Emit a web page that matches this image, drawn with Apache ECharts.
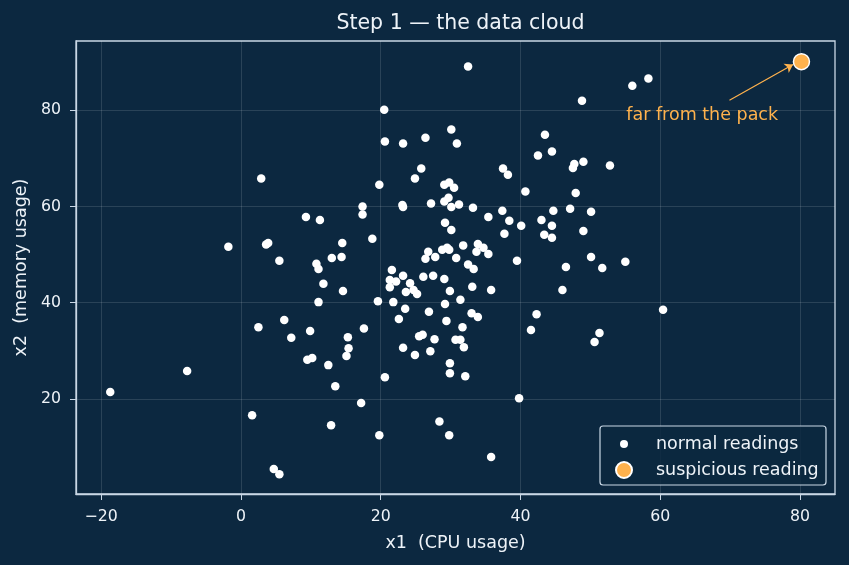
<!DOCTYPE html>
<html>
<head>
<meta charset="utf-8">
<script src="https://cdn.jsdelivr.net/npm/echarts@6/dist/echarts.min.js"></script>
<style>
  html, body { margin: 0; padding: 0; background: #0c2840; }
  #chart { width: 849px; height: 565px; }
</style>
</head>
<body>
<div id="chart"></div>
<script type="text/javascript">
// normal readings
var normalX = [2.9, 32.5, 20.5, 48.8, 30.1, 20.6, 23.2, 26.4, 30.9, 43.5, 44.5, 42.5, 25.8, 24.9, 19.8, 37.5, 38.2, 40.7, 47.5, 47.7,
  49.0, 47.9, 29.1, 29.8, 30.5, 58.3, 56.0, 52.8, 9.3, 11.3, -1.8, 3.6, 3.9, 5.5, 10.8, 11.1, 13.0, 11.8, 11.1, 6.2,
  2.5, 7.2, 9.9, 17.4, 17.4, 23.1, 23.2, 27.2, 29.1, 29.7, 30.1, 31.2, 33.2, 35.4, 37.4, 38.4, 40.1, 37.7, 43.0, 44.7,
  47.1, 44.5, 43.4, 44.5, 49.0, 29.2, 30.1, 18.8, 14.5, 14.4, 14.6, 26.8, 26.4, 27.8, 28.8, 29.5, 29.8, 31.8, 30.8, 33.9,
  33.7, 34.7, 35.4, 39.5, 46.5, 46.0, 21.6, 23.2, 21.3, 22.2, 21.3, 24.2, 24.7, 25.2, 23.6, 26.1, 27.5, 29.1, 32.5, 33.3,
  33.1, 35.8, 29.9, 31.4, 29.2, 19.6, 21.8, 23.5, 22.6, 26.9, 29.4, 33.0, 33.9, 31.7, 42.3, 41.5, 17.6, 15.3, 15.4, 15.1,
  25.5, 26.0, 27.7, 23.2, 30.7, 31.4, 31.9, 12.5, 13.5, 17.2, 12.9, 19.8, 20.6, 24.9, 27.1, 29.9, 29.9, 32.1, 39.8, 28.4,
  29.8, 35.8, 9.5, 10.2, -7.7, -18.7, 1.6, 4.7, 5.5, 50.1, 50.1, 51.7, 55.0, 60.4, 51.3, 50.6];
var normalY = [65.8, 89.1, 80.1, 82.0, 76.0, 73.5, 73.1, 74.3, 73.1, 74.9, 71.4, 70.6, 67.9, 65.8, 64.5, 67.9, 66.6, 63.1, 68.0, 68.8,
  69.3, 62.8, 64.5, 65.0, 63.9, 86.6, 85.1, 68.5, 57.8, 57.2, 51.6, 52.1, 52.4, 48.7, 48.1, 47.0, 49.3, 43.9, 40.1, 36.4,
  34.9, 32.7, 34.1, 60.0, 58.3, 60.3, 59.9, 60.6, 61.0, 61.8, 59.9, 60.4, 59.7, 57.8, 59.1, 57.0, 56.0, 54.3, 57.2, 59.1,
  59.5, 56.0, 54.1, 53.5, 54.9, 56.6, 55.1, 53.3, 52.4, 49.5, 42.4, 50.6, 49.1, 49.5, 51.0, 51.4, 51.0, 51.9, 49.3, 52.2,
  50.6, 51.4, 50.1, 48.7, 47.4, 42.6, 46.8, 45.6, 44.7, 44.4, 43.2, 44.0, 42.6, 41.8, 42.2, 45.4, 45.6, 44.9, 47.9, 47.0,
  43.3, 42.6, 42.4, 40.6, 39.7, 40.3, 40.1, 38.7, 36.6, 38.1, 36.2, 37.8, 37.0, 34.9, 37.6, 34.3, 34.6, 32.8, 30.5, 28.9,
  33.0, 33.3, 32.4, 30.6, 32.3, 32.3, 30.7, 27.0, 22.6, 19.1, 14.5, 12.4, 24.5, 29.1, 29.9, 27.4, 25.3, 24.7, 20.1, 15.3,
  12.4, 7.9, 28.1, 28.5, 25.8, 21.4, 16.6, 5.4, 4.3, 58.9, 49.5, 47.2, 48.5, 38.5, 33.7, 31.8];

// the suspicious reading
var outlierX = [80.2];
var outlierY = [90.1];

// annotation
var noteText = 'far from the pack';
var notePos = [66.0, 79.0];
var arrowFrom = [69.9, 82.1];
var arrowTo = [79.0, 89.5];

// ticks
var xTicks = [-20, 0, 20, 40, 60, 80];
var yTicks = [20, 40, 60, 80];

var BG = '#0c2840';
var FG = '#eef3f8';
var FRAME = '#c9d7e5';
var ORANGE = '#ffb24d';
var FONT = 'DejaVu Sans';

function zip(xs, ys) {
  var out = [];
  for (var i = 0; i < xs.length; i++) out.push([xs[i], ys[i]]);
  return out;
}
function fmt(v) {
  return String(v).replace('-', '\u2212');
}

var option = {
  backgroundColor: BG,
  animation: false,
  textStyle: { fontFamily: FONT },
  title: {
    text: 'Step 1 \u2014 the data cloud',
    left: 455.5, top: 8, textAlign: 'center',
    textStyle: { color: FG, fontSize: 20.5, fontWeight: 'normal', fontFamily: FONT }
  },
  grid: {
    left: 76, right: 14, top: 41, bottom: 71,
    show: true, borderColor: FRAME, borderWidth: 1.3, backgroundColor: 'transparent'
  },
  xAxis: {
    type: 'value', min: -23.6, max: 85, splitNumber: 5,
    name: 'x1  (CPU usage)', nameLocation: 'middle', nameGap: 40,
    nameTextStyle: { color: FG, fontSize: 17.5, fontFamily: FONT },
    axisLine: { show: true, onZero: false, lineStyle: { color: FRAME, width: 1.3 } },
    axisTick: { show: true, length: 6, customValues: xTicks, lineStyle: { color: FRAME, width: 1 } },
    axisLabel: { customValues: xTicks, color: FG, fontSize: 15.75, margin: 15, fontFamily: FONT, formatter: fmt },
    splitLine: { show: true, lineStyle: { color: 'rgba(255,255,255,0.16)', width: 0.8 } }
  },
  yAxis: {
    type: 'value', min: 0.2, max: 94.4, splitNumber: 5,
    name: 'x2  (memory usage)', nameLocation: 'middle', nameGap: 42, nameRotate: 90,
    nameTextStyle: { color: FG, fontSize: 17.5, fontFamily: FONT },
    axisLine: { show: true, onZero: false, lineStyle: { color: FRAME, width: 1.3 } },
    axisTick: { show: true, length: 6, customValues: yTicks, lineStyle: { color: FRAME, width: 1 } },
    axisLabel: { customValues: yTicks, color: FG, fontSize: 15.75, margin: 15, fontFamily: FONT, formatter: fmt },
    splitLine: { show: true, lineStyle: { color: 'rgba(255,255,255,0.16)', width: 0.8 } }
  },
  legend: [
    {
      data: ['normal readings'], orient: 'vertical', left: 620, top: 435, padding: 0,
      itemWidth: 54, itemHeight: 8, icon: 'circle',
      textStyle: { color: FG, fontSize: 17.5, fontFamily: FONT }
    },
    {
      data: ['suspicious reading'], orient: 'vertical', left: 615, top: 461, padding: 0,
      itemWidth: 54, itemHeight: 16, icon: 'circle',
      textStyle: { color: FG, fontSize: 17.5, fontFamily: FONT }
    }
  ],
  graphic: [{
    type: 'rect', z: 3,
    shape: { x: 600, y: 426, width: 226, height: 59, r: 3 },
    style: { fill: 'rgba(12,40,64,0.85)', stroke: FRAME, lineWidth: 1.2 }
  }],
  series: [
    {
      name: 'normal readings', type: 'scatter',
      data: zip(normalX, normalY),
      symbolSize: 8.5,
      itemStyle: { color: '#ffffff', opacity: 1 }
    },
    {
      name: 'suspicious reading', type: 'scatter',
      data: zip(outlierX, outlierY),
      symbolSize: 16, z: 5,
      itemStyle: { color: ORANGE, borderColor: '#ffffff', borderWidth: 1.5, opacity: 1 },
      markLine: {
        silent: true, symbol: ['none', 'arrow'], symbolSize: 8,
        lineStyle: { color: ORANGE, width: 1.2, type: 'solid' },
        label: { show: false },
        data: [[{ coord: arrowFrom }, { coord: arrowTo }]]
      },
      markPoint: {
        silent: true, symbol: 'circle', symbolSize: 0,
        label: { show: true, position: 'inside', formatter: noteText, color: ORANGE, fontSize: 17.5, fontFamily: FONT },
        data: [{ coord: notePos }]
      }
    }
  ]
};

var chart = echarts.init(document.getElementById('chart'));
chart.setOption(option);
</script>
</body>
</html>
